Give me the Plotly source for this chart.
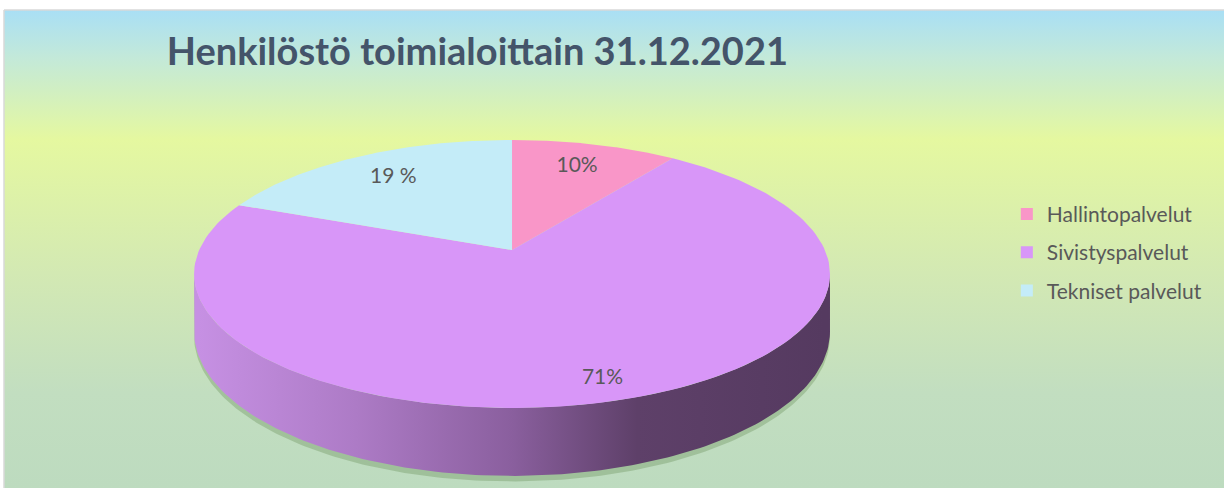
import base64
import numpy as np
import plotly.graph_objects as go

categories = ["Hallintopalvelut", "Sivistyspalvelut", "Tekniset palvelut"]
shares = [10, 71, 19]
pct_labels = ["10%", "71%", "19 %"]
top_colors = ["#f996c8", "#d896f8", "#c4ecf8"]
wall_scales = [
    [[0, "#f07ab4"], [1, "#8a3d63"]],
    [[0, "#c690e3"], [0.25, "#ad7bc6"], [0.5, "#8a5f9e"], [0.7, "#5e4069"], [1, "#553a60"]],
    [[0, "#a9d8e8"], [1, "#5a7a86"]],
]
title_text = "Henkilöstö toimialoittain 31.12.2021"

# 3D look: perspective factor, wall height and label radius (unit disc)
PERSP = 0.179
DEPTH = 0.43
label_radius = [0.76, 0.88, 0.75]


def project(u, v, drop=0.0):
    k = 1 + PERSP * v
    return u / k, (v - drop) / k


def arc(t0, t1, n=160, drop=0.0):
    t = np.radians(np.linspace(t0, t1, n))
    return project(np.sin(t), np.cos(t), drop)


fig = go.Figure()

total = sum(shares)
bounds = np.cumsum([0] + shares) / total * 360

# visible front wall lies between the two silhouette angles
edge = np.degrees(np.arccos(-PERSP))
front = (edge, 360 - edge)

# soft shadow under the pie
tx, ty = arc(*front)
bx, by = arc(*front, drop=DEPTH + 0.035)
fig.add_trace(go.Scatter(
    x=np.concatenate([tx, bx[::-1]]), y=np.concatenate([ty, by[::-1]]),
    fill="toself", mode="lines", line=dict(width=0),
    fillcolor="rgba(90,130,70,0.3)", showlegend=False, hoverinfo="skip"))

# side wall
for i in range(len(shares)):
    a0, a1 = max(bounds[i], front[0]), min(bounds[i + 1], front[1])
    if a1 <= a0:
        continue
    tx, ty = arc(a0, a1)
    bx, by = arc(a0, a1, drop=DEPTH)
    fig.add_trace(go.Scatter(
        x=np.concatenate([tx, bx[::-1]]), y=np.concatenate([ty, by[::-1]]),
        fill="toself", mode="lines", line=dict(width=0),
        fillgradient=dict(type="horizontal", colorscale=wall_scales[i], start=-1, stop=1),
        showlegend=False, hoverinfo="skip"))

# top face
for i in range(len(shares)):
    px, py = arc(bounds[i], bounds[i + 1])
    fig.add_trace(go.Scatter(
        x=np.concatenate([[0], px, [0]]),
        y=np.concatenate([[0], py, [0]]),
        fill="toself", mode="lines", line=dict(width=0),
        fillcolor=top_colors[i], name=categories[i], showlegend=False,
        hoverinfo="name"))

# percentage labels
mid = np.radians((bounds[:-1] + bounds[1:]) / 2)
lx, ly = project(np.sin(mid) * label_radius, np.cos(mid) * label_radius)
fig.add_trace(go.Scatter(
    x=lx, y=ly, mode="text", text=pct_labels,
    textfont=dict(family="Lato", size=21, color="#595959"),
    showlegend=False, hoverinfo="skip"))

# legend entries
for i, name in enumerate(categories):
    fig.add_trace(go.Scatter(
        x=[None], y=[None], mode="markers", name=name, legendgroup=name,
        marker=dict(symbol="square", size=11, color=top_colors[i])))

svg = (
    '<svg xmlns="http://www.w3.org/2000/svg" width="100" height="100" '
    'viewBox="0 0 100 100" preserveAspectRatio="none">'
    '<defs><linearGradient id="g" x1="0" y1="0" x2="0" y2="1">'
    '<stop offset="0" stop-color="#a9dff5"/>'
    '<stop offset="0.1" stop-color="#c3e9d9"/>'
    '<stop offset="0.27" stop-color="#e5f8a0"/>'
    '<stop offset="0.55" stop-color="#d3e9b3"/>'
    '<stop offset="0.8" stop-color="#c2dec0"/>'
    '<stop offset="1" stop-color="#bddbbf"/>'
    '</linearGradient></defs>'
    '<rect width="100" height="100" fill="url(#g)"/></svg>'
)
bg = "data:image/svg+xml;base64," + base64.b64encode(svg.encode()).decode()

fig.update_layout(
    width=1224, height=488,
    margin=dict(l=4, r=0, t=10, b=0),
    paper_bgcolor="white", plot_bgcolor="rgba(0,0,0,0)",
    images=[dict(source=bg, xref="paper", yref="paper", x=0, y=1,
                 sizex=1, sizey=1, sizing="stretch", layer="below")],
    xaxis=dict(range=[-1.624, 2.276], visible=False, fixedrange=True),
    yaxis=dict(range=[-1.835, 1.850], visible=False, fixedrange=True),
    title=dict(text=title_text, x=0.39, xanchor="center", y=0.895, yanchor="middle",
               xref="container", yref="container",
               font=dict(family="Lato", size=38, color="#44546a", weight="bold")),
    legend=dict(x=0.822, y=0.493, xanchor="left", yanchor="middle",
                font=dict(family="Lato", size=21, color="#595959"),
                bgcolor="rgba(0,0,0,0)", tracegroupgap=8, traceorder="grouped",
                itemsizing="constant"),
    shapes=[
        dict(type="line", xref="paper", yref="paper", x0=0, y0=1, x1=1, y1=1,
             line=dict(color="#d9d9d9", width=1.5)),
        dict(type="line", xref="paper", yref="paper", x0=0, y0=0, x1=0, y1=1,
             line=dict(color="#d9d9d9", width=1.5)),
    ],
    showlegend=True,
)

fig.write_html("out.html", config={"displayModeBar": False},
               post_script="document.body.style.margin='0';")
